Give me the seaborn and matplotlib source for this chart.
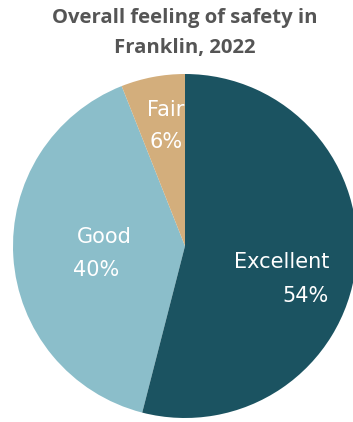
import matplotlib
matplotlib.use("Agg")
import matplotlib.pyplot as plt
import seaborn as sns

# Survey responses: overall feeling of safety in Franklin, 2022
categories = ["Excellent", "Good", "Fair"]
shares = [54, 40, 6]
colors = ["#1b5361", "#8bbeca", "#d3ae7c"]
title = "Overall feeling of safety in\nFranklin, 2022"

sns.set_style("white")
plt.rcParams["font.family"] = ["DejaVu Sans"]

W, H = 353, 422
fig = plt.figure(figsize=(W / 100, H / 100), dpi=100)
ax = fig.add_axes([0, 0, 1, 1])

cx, cy, r = 185, H - 246, 172
wedges, _ = ax.pie(
    shares,
    colors=colors,
    startangle=90,
    counterclock=False,
    center=(cx, cy),
    radius=r,
    wedgeprops=dict(linewidth=0),
    frame=True,
)
wedges[0].set_zorder(3)

ax.set_xlim(0, W)
ax.set_ylim(0, H)
ax.set_aspect("equal")
ax.axis("off")

lab = dict(color="white", fontsize=15, va="center")
ax.text(329, H - 262, "Excellent", ha="right", zorder=4, **lab)
ax.text(329, H - 296, "54%", ha="right", zorder=4, **lab)
ax.text(104, H - 237, "Good", ha="center", zorder=4, **lab)
ax.text(96, H - 270, "40%", ha="center", zorder=4, **lab)
ax.text(166, H - 110, "Fair", ha="center", zorder=2.5, **lab)
ax.text(166, H - 142, "6%", ha="center", zorder=2.5, **lab)

ax.text(185, H - 33, title, ha="center", va="center", fontsize=14.6,
        fontweight="bold", color="#555555", family=["Open Sans"],
        linespacing=1.62)

fig.savefig("out.png", dpi=100)
